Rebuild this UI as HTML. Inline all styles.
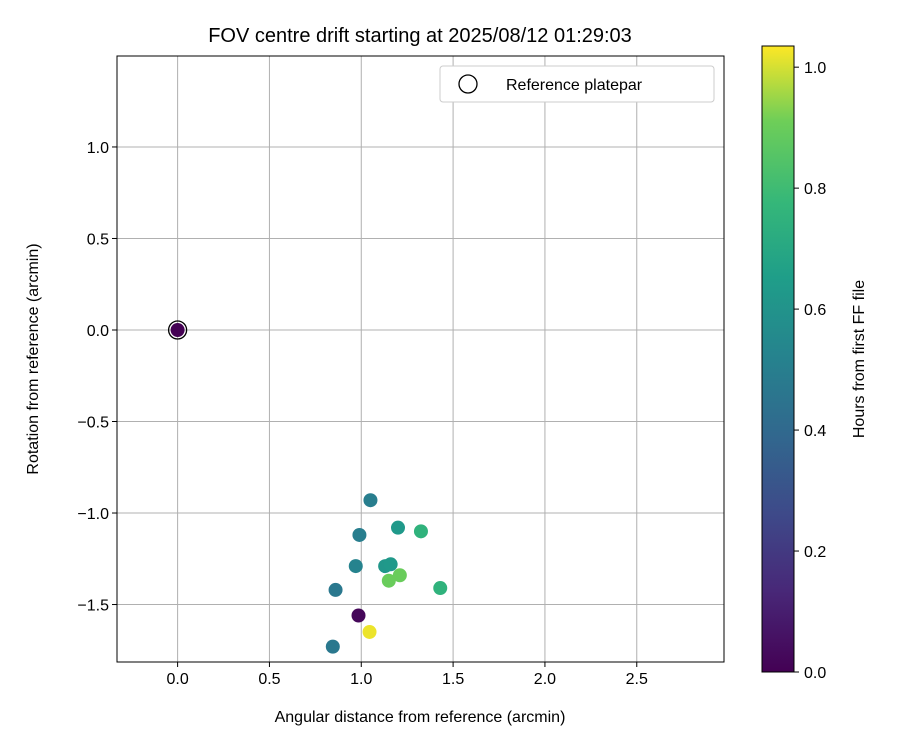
<!DOCTYPE html>
<html><head><meta charset="utf-8"><style>
body{margin:0;background:#fff;font-family:"Liberation Sans","DejaVu Sans",sans-serif}
</style></head><body>
<svg id="c" width="900" height="750" xmlns="http://www.w3.org/2000/svg">
<defs><linearGradient id="vir" x1="0" y1="1" x2="0" y2="0">
<stop offset="0" stop-color="#440154"/><stop offset="0.13" stop-color="#482878"/><stop offset="0.25" stop-color="#3e4989"/><stop offset="0.38" stop-color="#31688e"/><stop offset="0.5" stop-color="#26828e"/><stop offset="0.63" stop-color="#1f9e89"/><stop offset="0.75" stop-color="#35b779"/><stop offset="0.88" stop-color="#6ece58"/><stop offset="1" stop-color="#fde725"/>
</linearGradient></defs>
</svg>
<script>
const xs=[0,1.05,1.2,1.325,0.99,0.97,1.13,1.16,1.21,1.15,1.43,0.86,0.985,1.045,0.845];
const ys=[0,-0.93,-1.08,-1.1,-1.12,-1.29,-1.29,-1.28,-1.34,-1.37,-1.41,-1.42,-1.56,-1.65,-1.73];
const hours=[0,0.5,0.63,0.75,0.5,0.52,0.62,0.63,0.9,0.9,0.75,0.47,0.02,1.02,0.47];
const xTicks=[0,0.5,1,1.5,2,2.5];
const yTicks=[-1.5,-1,-0.5,0,0.5,1];
const cTicks=[0,0.2,0.4,0.6,0.8,1];
const L=117,R=724,T=56,B=662,xmin=-0.33,xmax=2.975,ymin=-1.814,ymax=1.497,cmax=1.035;
const X=v=>L+(v-xmin)/(xmax-xmin)*(R-L), Y=v=>B-(v-ymin)/(ymax-ymin)*(B-T);
const CT=46,CB=672,CY=v=>CB-v/cmax*(CB-CT);
const ns="http://www.w3.org/2000/svg",svg=document.getElementById('c');
function el(t,a,txt){const e=document.createElementNS(ns,t);for(const k in a)e.setAttribute(k,a[k]);if(txt!=null)e.textContent=txt;svg.appendChild(e);return e;}
const fmt=v=>(v<0?'\u2212':'')+Math.abs(v).toFixed(1);
const stops=[[0,[68,1,84]],[0.13,[72,40,120]],[0.25,[62,73,137]],[0.38,[49,104,142]],[0.5,[38,130,142]],[0.63,[31,158,137]],[0.75,[53,183,121]],[0.88,[110,206,88]],[1,[253,231,37]]];
function vir(t){t=Math.max(0,Math.min(1,t));for(let i=1;i<stops.length;i++){if(t<=stops[i][0]){const a=stops[i-1],b=stops[i],f=(t-a[0])/(b[0]-a[0]);return 'rgb('+a[1].map((c,j)=>Math.round(c+(b[1][j]-c)*f)).join(',')+')';}}}
xTicks.forEach(v=>{let g=el('line',{x1:X(v),x2:X(v),y1:T,y2:B,stroke:'#b0b0b0','stroke-width':1});
el('line',{x1:X(v),x2:X(v),y1:B,y2:B+5,stroke:'#000'});
let t=el('text',{x:X(v),y:B+22,'text-anchor':'middle','font-size':16},fmt(v));});
yTicks.forEach(v=>{let g=el('line',{x1:L,x2:R,y1:Y(v),y2:Y(v),stroke:'#b0b0b0','stroke-width':1});
el('line',{x1:L-5,x2:L,y1:Y(v),y2:Y(v),stroke:'#000'});
let t=el('text',{x:L-8,y:Y(v)+6,'text-anchor':'end','font-size':16},fmt(v));});
xs.forEach((x,i)=>{let c=el('circle',{cx:X(x),cy:Y(ys[i]),r:7,fill:vir(hours[i]/cmax)});});
let rp=el('circle',{cx:X(0),cy:Y(0),r:9,fill:'none',stroke:'#000','stroke-width':1.3});
let fr=el('rect',{x:L,y:T,width:R-L,height:B-T,fill:'none',stroke:'#000','stroke-width':1});
let tt=el('text',{x:420,y:42,'text-anchor':'middle','font-size':20},'FOV centre drift starting at 2025/08/12 01:29:03');
let xl=el('text',{x:420,y:722,'text-anchor':'middle','font-size':16},'Angular distance from reference (arcmin)');
let yl=el('text',{x:38,y:359,'text-anchor':'middle','font-size':16,transform:'rotate(-90 38 359)'},'Rotation from reference (arcmin)');
let lg=el('rect',{x:440,y:66,width:274,height:36,fill:'#fff',stroke:'#ccc',rx:3});
el('circle',{cx:468,cy:84,r:9,fill:'none',stroke:'#000','stroke-width':1.3});
let lt=el('text',{x:506,y:90,'font-size':16},'Reference platepar');
let cb=el('rect',{x:762,y:CT,width:32,height:CB-CT,fill:'url(#vir)',stroke:'#000','stroke-width':1});
cTicks.forEach(v=>{el('line',{x1:794,x2:799,y1:CY(v),y2:CY(v),stroke:'#000'});let t=el('text',{x:804,y:CY(v)+6,'font-size':16},v.toFixed(1));});
let cl=el('text',{x:864,y:359,'text-anchor':'middle','font-size':16,transform:'rotate(-90 864 359)'},'Hours from first FF file');
</script></body></html>
